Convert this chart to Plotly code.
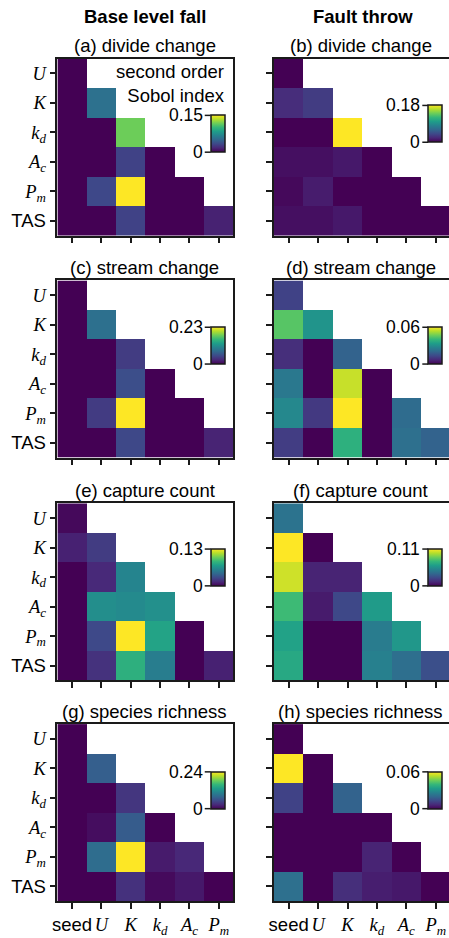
import plotly.graph_objects as go

# ---------------- data ----------------
row_names = ["U", "K", "kd", "Ac", "Pm", "TAS"]
col_names = ["seed", "U", "K", "kd", "Ac", "Pm"]

serif = "font-family:'Liberation Serif',serif"
y_ticktext = [
    f"<span style=\"{serif}\"><i>U</i></span>",
    f"<span style=\"{serif}\"><i>K</i></span>",
    f"<span style=\"{serif}\"><i>k</i><sub><i>d</i></sub></span>",
    f"<span style=\"{serif}\"><i>A</i><sub><i>c</i></sub></span>",
    f"<span style=\"{serif}\"><i>P</i><sub><i>m</i></sub></span>",
    "TAS",
]
x_ticktext = [
    "seed",
    f"<span style=\"{serif}\"><i>U</i></span>",
    f"<span style=\"{serif}\"><i>K</i></span>",
    f"<span style=\"{serif}\"><i>k</i><sub><i>d</i></sub></span>",
    f"<span style=\"{serif}\"><i>A</i><sub><i>c</i></sub></span>",
    f"<span style=\"{serif}\"><i>P</i><sub><i>m</i></sub></span>",
]

titles = ["(a) divide change", "(b) divide change",
          "(c) stream change", "(d) stream change",
          "(e) capture count", "(f) capture count",
          "(g) species richness", "(h) species richness"]

a_divide_base = [[0.0], [0.0, 0.056], [0.0, 0.0, 0.116], [0.0, 0.0, 0.030, 0.0],
                 [0.0, 0.033, 0.150, 0.0, 0.0], [0.0, 0.0, 0.030, 0.0, 0.0, 0.014]]
b_divide_fault = [[0.0], [0.023, 0.032], [0.0, 0.0, 0.180], [0.007, 0.007, 0.012, 0.0],
                  [0.004, 0.014, 0.0, 0.0, 0.0], [0.007, 0.007, 0.012, 0.0, 0.0, 0.0]]
c_stream_base = [[0.0], [0.0, 0.085], [0.0, 0.0, 0.041], [0.0, 0.0, 0.055, 0.0],
                 [0.0, 0.040, 0.230, 0.0, 0.0], [0.0, 0.0, 0.050, 0.0, 0.0, 0.023]]
d_stream_fault = [[0.012], [0.044, 0.031], [0.008, 0.0, 0.019], [0.024, 0.0, 0.055, 0.0],
                  [0.028, 0.010, 0.060, 0.0, 0.021], [0.011, 0.0, 0.038, 0.0, 0.022, 0.019]]
e_capture_base = [[0.003], [0.012, 0.023], [0.0, 0.015, 0.059], [0.0, 0.064, 0.062, 0.065],
                  [0.0, 0.029, 0.130, 0.075, 0.0], [0.0, 0.019, 0.082, 0.055, 0.0, 0.012]]
f_capture_fault = [[0.042], [0.110, 0.0], [0.102, 0.011, 0.011], [0.075, 0.008, 0.024, 0.060],
                   [0.063, 0.0, 0.0, 0.046, 0.058], [0.066, 0.0, 0.0, 0.048, 0.040, 0.027]]
g_richness_base = [[0.0], [0.0, 0.072], [0.0, 0.0, 0.038], [0.0, 0.008, 0.070, 0.0],
                   [0.0, 0.085, 0.240, 0.018, 0.027], [0.0, 0.0, 0.034, 0.006, 0.016, 0.0]]
h_richness_fault = [[0.0], [0.060, 0.0], [0.012, 0.0, 0.019], [0.0, 0.0, 0.0, 0.0],
                    [0.0, 0.0, 0.0, 0.006, 0.0], [0.022, 0.0, 0.008, 0.005, 0.004, 0.0]]

panels = [a_divide_base, b_divide_fault, c_stream_base, d_stream_fault,
          e_capture_base, f_capture_fault, g_richness_base, h_richness_fault]
cbar_max = [0.15, 0.18, 0.23, 0.06, 0.13, 0.11, 0.24, 0.06]
cbar_max_labels = ["0.15", "0.18", "0.23", "0.06", "0.13", "0.11", "0.24", "0.06"]

# ---------------- layout helpers ----------------
W, H = 449, 938
def px(x):
    return x / W
def py(y):
    return 1 - y / H

col_px = [(53, 231), (272, 449)]
col_xmax = [5.5, 5.45]          # right column is clipped at the page edge
row_tops = [59, 282, 506, 728]
panel_h = 178
cb_left = [208, 428]
cb_tops = [116, 106, 329, 329, 552, 552, 776, 776]
cb_len = 37

SANS = "Liberation Sans, Arial, sans-serif"
LINE = "#1a1a1a"
FS = 18.5

fig = go.Figure()
annotations = []
shapes = []

for k, tri in enumerate(panels):
    r, c = divmod(k, 2)
    z = [[row[j] if j < len(row) else None for j in range(6)] for row in tri]
    ax = "" if k == 0 else str(k + 1)
    x0, x1 = col_px[c]
    top = row_tops[r]
    cbx = cb_left[c]
    cbt = cb_tops[k]
    fig.add_trace(go.Heatmap(
        z=z, x=list(range(6)), y=list(range(6)),
        colorscale="Viridis", zmin=0, zmax=cbar_max[k],
        xaxis="x" + ax, yaxis="y" + ax,
        hoverongaps=False,
        colorbar=dict(
            x=px(cbx), xanchor="left", xpad=0, ypad=0,
            y=py(cbt), yanchor="top",
            len=cb_len, lenmode="pixels",
            thickness=14, thicknessmode="pixels",
            outlinewidth=1.5, outlinecolor=LINE,
            ticks="", showticklabels=False,
        ),
    ))
    fig.layout["xaxis" + ax] = dict(
        domain=[px(x0), px(x1)], anchor="y" + ax,
        range=[-0.5, col_xmax[c]], tickmode="array", tickvals=list(range(6)),
        ticktext=x_ticktext, showticklabels=(r == 3), tickangle=0,
        ticks="outside", ticklen=6, tickwidth=1.5, tickcolor=LINE,
        showline=True, mirror=True, linecolor=LINE, linewidth=1.5,
        showgrid=False, zeroline=False,
        tickfont=dict(family=SANS, size=FS, color="black"),
    )
    fig.layout["yaxis" + ax] = dict(
        domain=[py(top + panel_h), py(top)], anchor="x" + ax,
        range=[5.5, -0.5], tickmode="array", tickvals=list(range(6)),
        ticktext=y_ticktext, showticklabels=(c == 0),
        ticks="outside", ticklen=6, tickwidth=1.5, tickcolor=LINE,
        showline=True, mirror=(c == 0), linecolor=LINE, linewidth=1.5,
        showgrid=False, zeroline=False,
        tickfont=dict(family=SANS, size=FS, color="black"),
    )
    # subplot title
    annotations.append(dict(
        text=titles[k], x=px((x0 + x1 - 1) / 2), y=py(top - 13),
        xref="paper", yref="paper", xanchor="center", yanchor="middle",
        showarrow=False, font=dict(family=SANS, size=FS, color="black"),
    ))
    # colorbar ticks and labels on the left
    for yy, lab in [(cbt, cbar_max_labels[k]), (cbt + cb_len, "0")]:
        shapes.append(dict(type="line", xref="paper", yref="paper",
                           x0=px(cbx - 6), x1=px(cbx), y0=py(yy), y1=py(yy),
                           line=dict(color=LINE, width=1.5)))
        annotations.append(dict(
            text=lab, x=px(cbx - 6), y=py(yy), xref="paper", yref="paper",
            xanchor="right", yanchor="middle", showarrow=False,
            font=dict(family=SANS, size=17.5, color="black"),
        ))

# column headers
annotations.append(dict(text="<b>Base level fall</b>", x=px(142), y=py(17),
                        xref="paper", yref="paper", xanchor="center", yanchor="middle",
                        showarrow=False, font=dict(family=SANS, size=FS, color="black")))
annotations.append(dict(text="<b>Fault throw</b>", x=px(362), y=py(17),
                        xref="paper", yref="paper", xanchor="center", yanchor="middle",
                        showarrow=False, font=dict(family=SANS, size=FS, color="black")))
# inset text
annotations.append(dict(text="second order<br>Sobol index", x=px(225), y=py(84),
                        xref="paper", yref="paper", xanchor="right", yanchor="middle",
                        align="right", showarrow=False,
                        font=dict(family=SANS, size=FS, color="black")))

fig.update_layout(
    width=W, height=H, margin=dict(l=0, r=0, t=0, b=0),
    paper_bgcolor="white", plot_bgcolor="white",
    annotations=annotations, shapes=shapes, showlegend=False,
    font=dict(family=SANS, color="black"),
)

fig.write_html(
    "out.html",
    config={"displayModeBar": False},
    post_script="document.body.style.margin='0';document.body.style.padding='0';",
)
